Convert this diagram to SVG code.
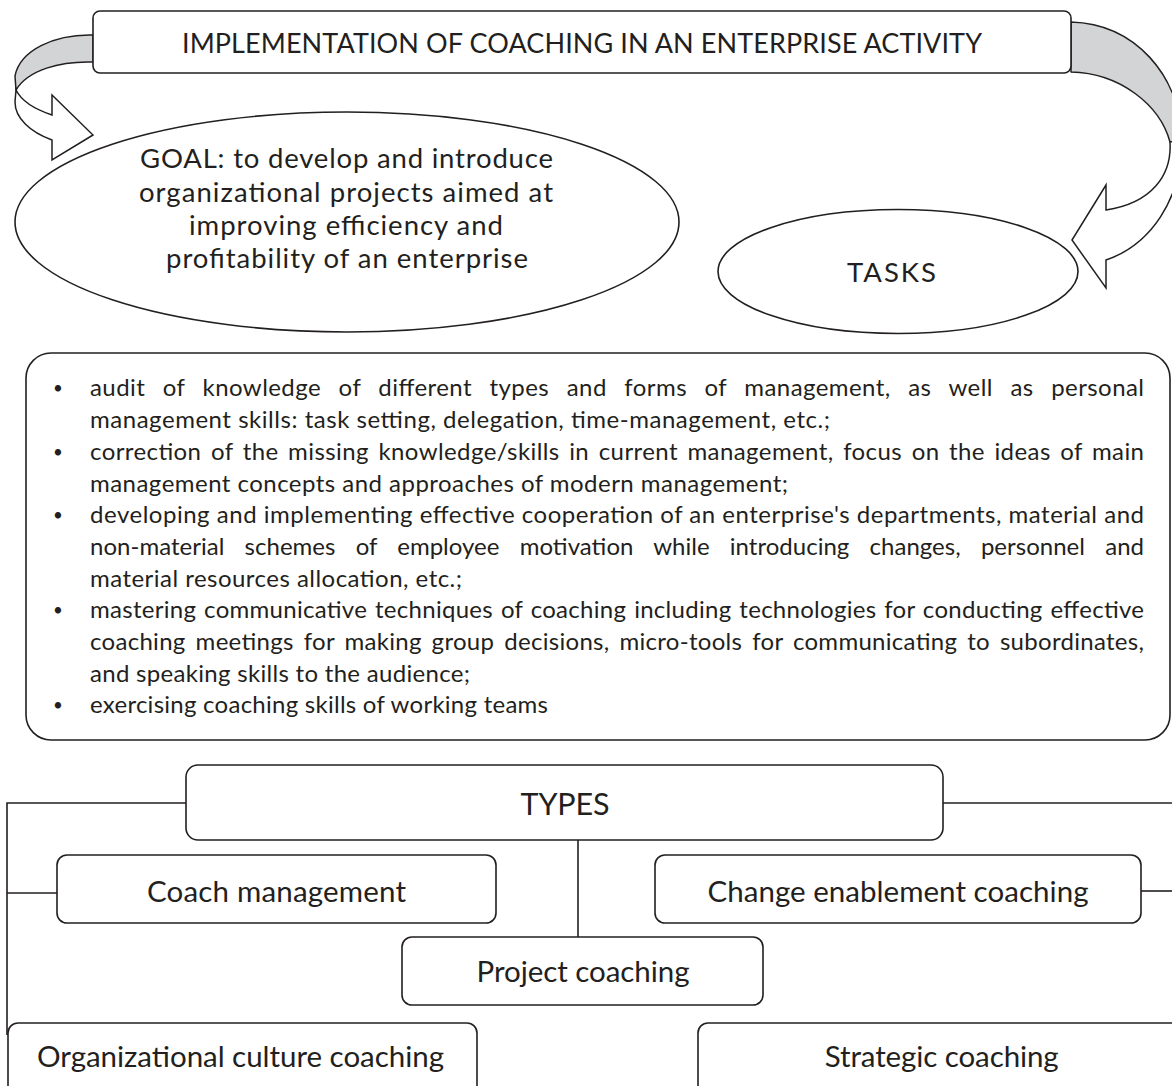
<svg xmlns="http://www.w3.org/2000/svg" width="1172" height="1086" viewBox="0 0 1172 1086">
<style>
.ln{fill:none;stroke:#231f20;stroke-width:1.6}
.box{fill:#fff;stroke:#231f20;stroke-width:1.6}
.gray{fill:#d3d4d6;stroke:#231f20;stroke-width:1.5;stroke-linejoin:round}
.white{fill:#fff;stroke:#231f20;stroke-width:1.5;stroke-linejoin:miter}
.t{font-family:Lato,"Liberation Sans",sans-serif;fill:#231f20}
.b{font-size:24px}
.bul{font-size:17px}
.lbl{font-size:29.5px;text-anchor:middle}
</style>
<rect width="1172" height="1086" fill="#fff"/>
<g id="arrows">
<path class="gray" d="M93,35 C55,34 20,50 15,76 L16,90 C28,70 60,61 93,62 Z"/>
<path class="white" d="M16,90 C22,102 37,110 52,115 L52,95 L93,135 L52,160 L52,140 C30,132 15,118 15,102 Z"/>
<path class="gray" d="M1071,22 C1135,24 1180,75 1182,140 L1170,142 C1160,105 1120,73 1071,72 Z"/>
<path class="white" d="M1170,142 C1172,175 1152,203 1106,210 L1106,185 L1072,240 L1106,288 L1106,260 C1150,245 1182,200 1182,140 Z"/>
</g>
<g id="title">
<rect class="box" x="93" y="11" width="978" height="62" rx="7"/>
<text class="t" x="182" y="53" font-size="27" textLength="800" lengthAdjust="spacing">IMPLEMENTATION OF COACHING IN AN ENTERPRISE ACTIVITY</text>
</g>
<g id="goal">
<ellipse class="box" cx="347" cy="222" rx="332" ry="110"/>
<text class="t" font-size="27.5">
<tspan x="140" y="168" textLength="413" lengthAdjust="spacing">GOAL: to develop and introduce</tspan>
<tspan x="139" y="202" textLength="414" lengthAdjust="spacing">organizational projects aimed at</tspan>
<tspan x="189" y="235" textLength="314" lengthAdjust="spacing">improving efficiency and</tspan>
<tspan x="166" y="268" textLength="362" lengthAdjust="spacing">profitability of an enterprise</tspan>
</text>
</g>
<g id="tasks">
<ellipse class="box" cx="898" cy="271.5" rx="180" ry="62"/>
<text class="t" x="847" y="282" font-size="27.5" textLength="89" lengthAdjust="spacing">TASKS</text>
</g>
<g id="task-list">
<rect class="box" x="26" y="353" width="1144" height="387" rx="25"/>
<g class="t bul">
<text x="53" y="394">•</text>
<text x="53" y="458">•</text>
<text x="53" y="521">•</text>
<text x="53" y="616">•</text>
<text x="53" y="711">•</text>
</g>
<g class="t b">
<text x="90" y="396" word-spacing="11" textLength="1054" lengthAdjust="spacing">audit of knowledge of different types and forms of management, as well as personal</text>
<text x="90" y="428" textLength="740" lengthAdjust="spacing">management skills: task setting, delegation, time-management, etc.;</text>
<text x="90" y="460" word-spacing="3" textLength="1054" lengthAdjust="spacing">correction of the missing knowledge/skills in current management, focus on the ideas of main</text>
<text x="90" y="492" textLength="698" lengthAdjust="spacing">management concepts and approaches of modern management;</text>
<text x="90" y="523" textLength="1054" lengthAdjust="spacing">developing and implementing effective cooperation of an enterprise's departments, material and</text>
<text x="90" y="555" word-spacing="14" textLength="1054" lengthAdjust="spacing">non-material schemes of employee motivation while introducing changes, personnel and</text>
<text x="90" y="587" textLength="372" lengthAdjust="spacing">material resources allocation, etc.;</text>
<text x="90" y="618" word-spacing="1.5" textLength="1054" lengthAdjust="spacing">mastering communicative techniques of coaching including technologies for conducting effective</text>
<text x="90" y="650" word-spacing="3.5" textLength="1054" lengthAdjust="spacing">coaching meetings for making group decisions, micro-tools for communicating to subordinates,</text>
<text x="90" y="682" textLength="380" lengthAdjust="spacing">and speaking skills to the audience;</text>
<text x="90" y="713" textLength="458" lengthAdjust="spacing">exercising coaching skills of working teams</text>
</g>
</g>
<g id="connectors">
<path class="ln" d="M186,803 H7 V1035"/>
<path class="ln" d="M7,893 H57"/>
<path class="ln" d="M578,840 V937"/>
<path class="ln" d="M943,803 H1172"/>
<path class="ln" d="M1141,891 H1172"/>
</g>
<g id="types">
<rect class="box" x="186" y="765" width="757" height="75" rx="12"/>
<text class="t" x="565" y="815" font-size="30.5" text-anchor="middle" textLength="89" lengthAdjust="spacing">TYPES</text>
</g>
<g id="coach-management">
<rect class="box" x="57" y="855" width="439" height="68" rx="10"/>
<text class="t lbl" x="276.5" y="901.7" textLength="259" lengthAdjust="spacing">Coach management</text>
</g>
<g id="change-enablement">
<rect class="box" x="655" y="855" width="486" height="68" rx="10"/>
<text class="t lbl" x="898" y="901.7" textLength="381" lengthAdjust="spacing">Change enablement coaching</text>
</g>
<g id="project-coaching">
<rect class="box" x="402" y="937" width="361" height="68" rx="10"/>
<text class="t lbl" x="583" y="981.7" textLength="213" lengthAdjust="spacing">Project coaching</text>
</g>
<g id="org-culture">
<rect class="box" x="8" y="1023" width="469" height="80" rx="10"/>
<text class="t lbl" x="240.5" y="1066.7" textLength="407" lengthAdjust="spacing">Organizational culture coaching</text>
</g>
<g id="strategic">
<rect class="box" x="698" y="1023" width="490" height="80" rx="10"/>
<text class="t lbl" x="941.7" y="1066.7" textLength="234" lengthAdjust="spacing">Strategic coaching</text>
</g>
</svg>
